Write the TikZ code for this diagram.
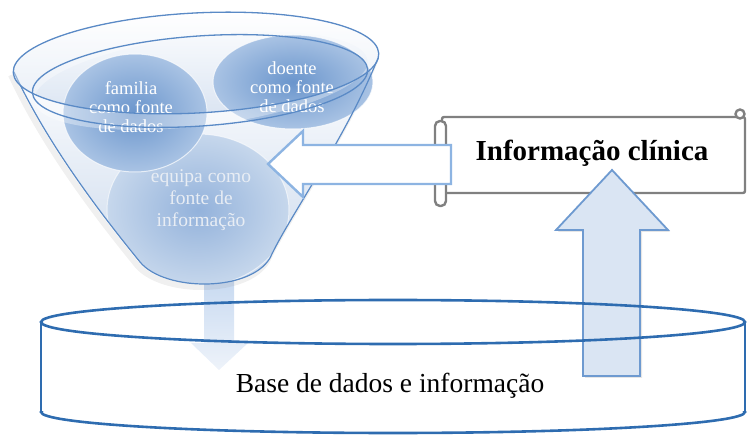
\documentclass[tikz,border=0pt]{standalone}
\usepackage{fontspec}
\setmainfont{Liberation Serif}
\usetikzlibrary{shapes.geometric,shadows}
\definecolor{fblue}{HTML}{5A8AC6}
\definecolor{glassblue}{HTML}{C9D8EC}
\definecolor{ballin}{HTML}{6A95CC}
\definecolor{ballout}{HTML}{A9C3E4}
\definecolor{eqin}{HTML}{93B2DB}
\definecolor{eqout}{HTML}{C6D7EC}
\definecolor{eqtext}{HTML}{E8EDF4}
\definecolor{arrowlight}{HTML}{8DB4E2}
\definecolor{uparrowfill}{HTML}{DAE5F3}
\definecolor{uparrowline}{HTML}{6E9AD0}
\definecolor{faintarrow}{HTML}{C8DAF1}
\definecolor{faintarrowlow}{HTML}{EEF3FA}
\definecolor{dbblue}{HTML}{2E6CB0}
\definecolor{scrollgray}{HTML}{808080}
\begin{document}
\begin{tikzpicture}[x=1pt,y=-1pt,
  ballnode/.style={ellipse, inner color=ballin, outer color=ballout, draw=white, draw opacity=0.7, line width=1pt, inner sep=0pt},
  eqnode/.style={ellipse, inner color=eqin, outer color=eqout, draw=white, draw opacity=0.6, line width=1pt, inner sep=0pt},
  circtext/.style={text=white, font=\fontsize{18.5}{19}\selectfont, align=center},
  eqtextstyle/.style={text=eqtext, font=\fontsize{19.5}{22}\selectfont, align=center},
  rimline/.style={draw=fblue, line width=1.3pt},
  blockleft/.style={draw=arrowlight, line width=2.4pt, fill=white, line join=miter},
  blockup/.style={draw=uparrowline, line width=1.8pt, fill=uparrowfill, line join=miter,
     drop shadow={opacity=0.2, shadow xshift=2pt, shadow yshift=-2pt}},
  scrollline/.style={draw=scrollgray, line width=2.4pt, fill=white},
  dbline/.style={draw=dbblue, line width=2.6pt},
  bigtext/.style={font=\fontsize{27.5}{30}\selectfont}
]
\useasboundingbox (0,0) rectangle (747,435);

% faint down arrow below the funnel
\shade[top color=faintarrow, bottom color=faintarrowlow]
  (204,280) -- (204,343) -- (191,343) -- (219,370) -- (248,343) -- (234,343) -- (234,280) -- cycle;

% funnel shadow
\draw[gray, line width=6pt, opacity=0.12, xshift=-3pt, yshift=-3pt]
  (14,72) .. controls (50,150) and (110,225) .. (140,262)
  .. controls (165,292) and (250,292) .. (270,258)
  .. controls (290,215) and (345,140) .. (378,58);

% funnel body (glass)
\fill[top color=white, bottom color=glassblue]
  (14,72) .. controls (50,150) and (110,225) .. (140,262)
  .. controls (165,292) and (250,292) .. (270,258)
  .. controls (290,215) and (345,140) .. (378,58) -- cycle;
\fill[top color=white, bottom color=glassblue!70, rotate around={3:(196,63)}]
  (196,63) ellipse [x radius=183, y radius=50];

% lower sphere, inside the funnel
\begin{scope}
  \clip (14,72) .. controls (50,150) and (110,225) .. (140,262)
    .. controls (165,292) and (250,292) .. (270,258)
    .. controls (290,215) and (345,140) .. (378,58) -- cycle;
  \node[eqnode, minimum width=182pt, minimum height=152pt] (equipa) at (198,210) {};
\end{scope}
\node[eqtextstyle] (equipatext) at (201,200) {equipa como\\fonte de\\informação};

% upper spheres
\node[ballnode, minimum width=144pt, minimum height=118pt] (familia) at (135,113) {};
\node[circtext] (familiatext) at (131,107) {familia\\como fonte\\de dados};
\node[ballnode, minimum width=160pt, minimum height=94pt] (doente) at (293,82) {};
\node[circtext] (doentetext) at (292,87) {doente\\como fonte\\de dados};

% funnel outline
\draw[draw=fblue, line width=1.2pt]
  (14,72) .. controls (50,150) and (110,225) .. (140,262)
  .. controls (165,292) and (250,292) .. (270,258)
  .. controls (290,215) and (345,140) .. (378,58);

% rim band and rim lines
\fill[white, opacity=0.35, even odd rule]
  [rotate around={3:(196,63)}] (196,63) ellipse [x radius=183, y radius=50]
  [rotate around={4:(200,81)}] (200,81) ellipse [x radius=168, y radius=45];
\draw[rimline, rotate around={3:(196,63)}] (196,63) ellipse [x radius=183, y radius=50];
\draw[rimline, rotate around={4:(200,81)}] (200,81) ellipse [x radius=168, y radius=45];

% scroll "Informação clínica"
\draw[scrollline, rounded corners=2pt] (442,117) rectangle (745,193);
\draw[scrollline, rounded corners=5pt] (435,121) rectangle (446,206);
\draw[scrollline] (740,114) circle (4.5pt);
\node[font=\bfseries\fontsize{29}{32}\selectfont] (info) at (592,153) {Informação clínica};

% left block arrow (information into the funnel)
\draw[blockleft] (268,164) -- (303,131) -- (303,145) -- (451,145) -- (451,184)
  -- (303,184) -- (303,197) -- cycle;

% up block arrow (from database to information)
\draw[blockup] (612,170) -- (668,230) -- (640,230) -- (640,376) -- (583,376)
  -- (583,230) -- (556,230) -- cycle;

% database cylinder
\draw[dbline] (393,322) ellipse [x radius=352, y radius=22];
\draw[dbline] (41,322) -- (41,412);
\draw[dbline] (745,322) -- (745,412);
\begin{scope}
  \clip (0,412) rectangle (747,440);
  \draw[dbline] (393,412) ellipse [x radius=352, y radius=21];
\end{scope}
\node[bigtext] (dbtext) at (390,386) {Base de dados e informação};
\end{tikzpicture}
\end{document}
